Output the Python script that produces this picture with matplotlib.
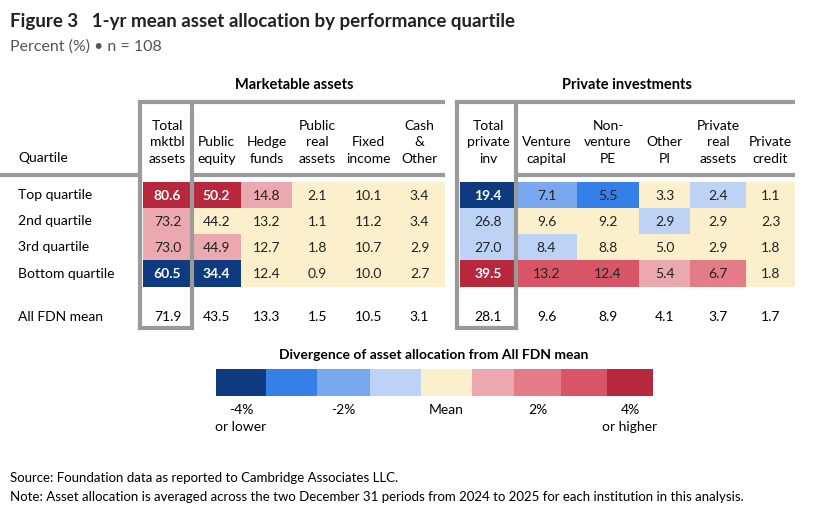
import math
import matplotlib.pyplot as plt
from matplotlib.patches import Rectangle

plt.rcParams['font.family'] = ['Lato', 'DejaVu Sans']

quartiles = ['Top quartile', '2nd quartile', '3rd quartile', 'Bottom quartile']
mkt_cols = ['Total\nmktbl\nassets', 'Public\nequity', 'Hedge\nfunds', 'Public\nreal\nassets',
            'Fixed\nincome', 'Cash\n&\nOther']
pri_cols = ['Total\nprivate\ninv', 'Venture\ncapital', 'Non-\nventure\nPE', 'Other\nPI',
            'Private\nreal\nassets', 'Private\ncredit']
mkt_vals = [[80.6, 50.2, 14.8, 2.1, 10.1, 3.4],
            [73.2, 44.2, 13.2, 1.1, 11.2, 3.4],
            [73.0, 44.9, 12.7, 1.8, 10.7, 2.9],
            [60.5, 34.4, 12.4, 0.9, 10.0, 2.7]]
mkt_mean = [71.9, 43.5, 13.3, 1.5, 10.5, 3.1]
pri_vals = [[19.4, 7.1, 5.5, 3.3, 2.4, 1.1],
            [26.8, 9.6, 9.2, 2.9, 2.9, 2.3],
            [27.0, 8.4, 8.8, 5.0, 2.9, 1.8],
            [39.5, 13.2, 12.4, 5.4, 6.7, 1.8]]
pri_mean = [28.1, 9.6, 8.9, 4.1, 3.7, 1.7]
legend_labels = ['-4%\nor lower', '', '-2%', '', 'Mean', '', '2%', '', '4%\nor higher']

palette = ['#0e3a80', '#347fe8', '#79a8ef', '#bdd3f6', '#fcf0cc',
           '#eba8ae', '#e37c87', '#d75566', '#b8283c']
GRAY = '#9a9a9a'

# layout in pixels
mkt_x = [143, 192, 241, 292, 343, 394, 445]
pri_x = [460, 516, 577, 639, 690, 746, 795]
row_y = [182, 208, 234, 260, 287]
mean_y = 317
legend_x = [216, 266, 317, 370, 421, 472, 514, 561, 607, 653]


def color_for(v, m):
    d = round(v - m, 1)
    lvl = max(0, math.ceil(abs(d) - 1e-9) - 1)
    lvl = min(lvl, 4)
    return palette[4 + lvl] if d > 0 else palette[4 - lvl], lvl == 4


fig = plt.figure(figsize=(8.38, 5.19), dpi=100)
ax = fig.add_axes([0, 0, 1, 1])
ax.set_xlim(0, 838)
ax.set_ylim(519, 0)
ax.axis('off')

ax.text(10, 22, 'Figure 3   1-yr mean asset allocation by performance quartile',
        fontsize=13.5, fontweight='bold', va='center', color='#222222')
ax.text(10, 47, 'Percent (%) \u2022 n = 108', fontsize=11.5, va='center', color='#555555')

ax.text(294, 85, 'Marketable assets', fontsize=10.5, fontweight='bold', ha='center', va='center')
ax.text(627, 85, 'Private investments', fontsize=10.5, fontweight='bold', ha='center', va='center')
ax.text(18, 158, 'Quartile', fontsize=10, va='center')

for r, q in enumerate(quartiles):
    ax.text(18, (row_y[r] + row_y[r + 1]) / 2, q, fontsize=10, va='center')
ax.text(18, mean_y, 'All FDN mean', fontsize=10, va='center')

for xs, cols, vals, means in [(mkt_x, mkt_cols, mkt_vals, mkt_mean),
                              (pri_x, pri_cols, pri_vals, pri_mean)]:
    for c, name in enumerate(cols):
        cx = (xs[c] + xs[c + 1]) / 2
        ax.text(cx, 165, name, fontsize=10, ha='center', va='bottom', linespacing=1.45)
        for r in range(len(quartiles)):
            col, dark = color_for(vals[r][c], means[c])
            ax.add_patch(Rectangle((xs[c], row_y[r]), xs[c + 1] - xs[c], row_y[r + 1] - row_y[r],
                                   facecolor=col, edgecolor='none'))
            ax.text(cx, (row_y[r] + row_y[r + 1]) / 2 + 1, f'{vals[r][c]:.1f}', fontsize=10,
                    ha='center', va='center', color='white' if dark else '#222222',
                    fontweight='bold' if dark else 'normal')
        ax.text(cx, mean_y, f'{means[c]:.1f}', fontsize=10, ha='center', va='center')
    # boxes around the total column and the group
    ax.add_patch(Rectangle((xs[0] - 3, 102), xs[1] - xs[0] + 3, 226, fill=False,
                           edgecolor=GRAY, linewidth=3))
    ax.plot([xs[1], xs[-1]], [102, 102], color=GRAY, lw=3, solid_capstyle='butt')
    ax.plot([xs[1], xs[-1]], [175, 175], color=GRAY, lw=3, solid_capstyle='butt')
ax.plot([0, 140], [175, 175], color=GRAY, lw=3, solid_capstyle='butt')

# legend
ax.text(434, 355, 'Divergence of asset allocation from All FDN mean', fontsize=10,
        fontweight='bold', ha='center', va='center')
for i, col in enumerate(palette):
    ax.add_patch(Rectangle((legend_x[i], 369), legend_x[i + 1] - legend_x[i], 27,
                           facecolor=col, edgecolor='none'))
    if legend_labels[i]:
        ax.text((legend_x[i] + legend_x[i + 1]) / 2, 404, legend_labels[i], fontsize=10,
                ha='center', va='top', linespacing=1.5)

ax.text(10, 478, 'Source: Foundation data as reported to Cambridge Associates LLC.',
        fontsize=9.5, va='center')
ax.text(10, 497, 'Note: Asset allocation is averaged across the two December 31 periods from 2024 '
        'to 2025 for each institution in this analysis.', fontsize=9.5, va='center')

fig.savefig('out.png', dpi=100)
